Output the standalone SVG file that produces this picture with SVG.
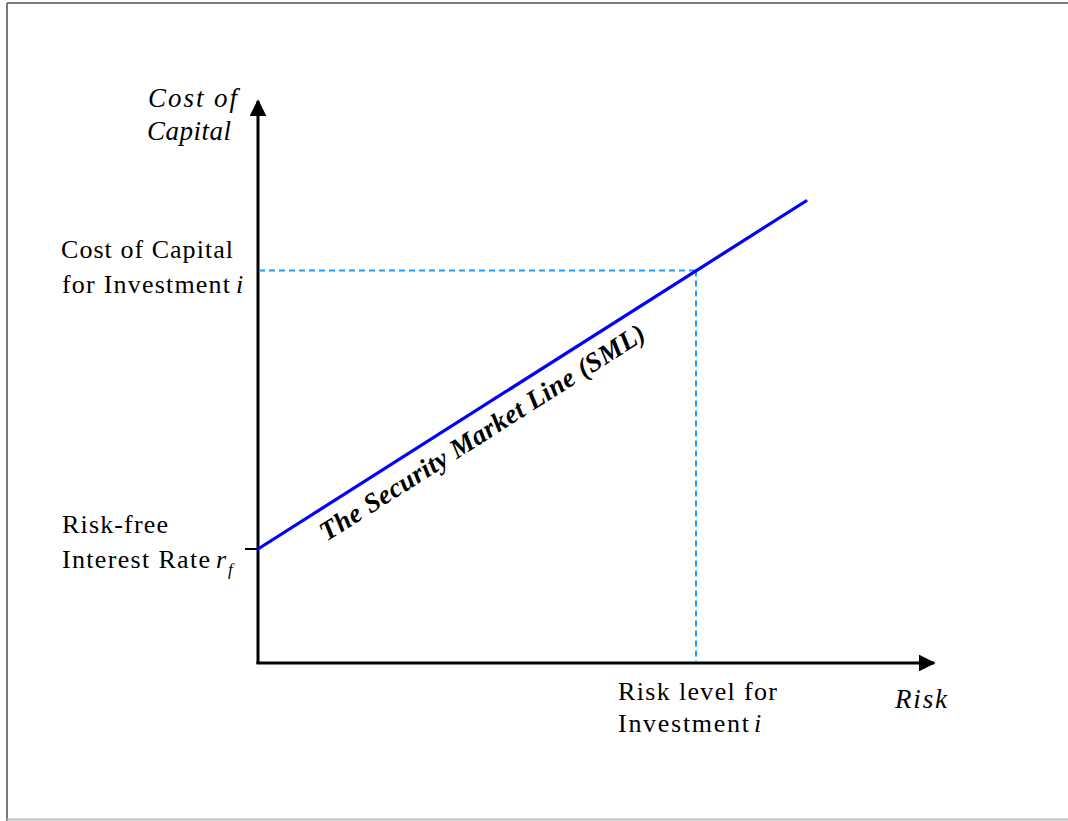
<svg xmlns="http://www.w3.org/2000/svg" width="1068" height="821" viewBox="0 0 1068 821">
  <style>
    .lbl { font-family: "Liberation Serif", "Times New Roman", serif; font-size: 26px; fill: #000; }
    .it { font-style: italic; }
    .title { font-size: 27px; }
    .axis { stroke: #000; stroke-width: 3; fill: none; }
    .guide { stroke: #1E9BFF; stroke-width: 2; stroke-dasharray: 6 4; fill: none; }
    .sml { stroke: #0000FF; stroke-width: 3.2; stroke-linecap: round; fill: none; }
  </style>
  <defs>
    <marker id="arrow" viewBox="0 0 10 10" refX="9" refY="5" markerWidth="5.6" markerHeight="5.6" markerUnits="strokeWidth" orient="auto">
      <path d="M0,0 L10,5 L0,10 Z" fill="#000"/>
    </marker>
  </defs>

  <rect width="1068" height="821" fill="#fff"/>

  <!-- frame -->
  <g id="frame">
    <line x1="7" y1="3" x2="1068" y2="3" stroke="#7a7a7a" stroke-width="2"/>
    <line x1="7" y1="3" x2="7" y2="821" stroke="#7a7a7a" stroke-width="2"/>
    <line x1="7" y1="819.5" x2="1068" y2="819.5" stroke="#c0c0c0" stroke-width="2"/>
  </g>

  <g id="connectors">
    <!-- axes -->
    <line class="axis" x1="258" y1="664" x2="258" y2="101" marker-end="url(#arrow)"/>
    <line class="axis" x1="256.5" y1="663" x2="934" y2="663" marker-end="url(#arrow)"/>
    <!-- rf tick -->
    <line x1="245" y1="549" x2="258" y2="549" stroke="#000" stroke-width="2"/>
    <!-- guides for investment i -->
    <line class="guide" x1="259" y1="270.5" x2="696" y2="270.5"/>
    <line class="guide" x1="696" y1="270.5" x2="696" y2="662"/>
    <!-- security market line -->
    <line class="sml" x1="258" y1="549" x2="806" y2="201"/>
  </g>

  <g id="y-axis-title">
    <text class="lbl it title" x="148" y="107" textLength="89" lengthAdjust="spacing">Cost of</text>
    <text class="lbl it title" x="147" y="140" textLength="84" lengthAdjust="spacing">Capital</text>
  </g>

  <g id="label-cost-i">
    <text class="lbl" x="61" y="258" textLength="172" lengthAdjust="spacing">Cost of Capital</text>
    <text class="lbl" x="62" y="293" textLength="168" lengthAdjust="spacing">for Investment</text>
    <text class="lbl it" x="236" y="293">i</text>
  </g>

  <g id="label-rf">
    <text class="lbl" x="62" y="533" textLength="106" lengthAdjust="spacing">Risk-free</text>
    <text class="lbl" x="62" y="568" textLength="148" lengthAdjust="spacing">Interest Rate</text>
    <text class="lbl it" x="216" y="568">r</text>
    <text class="lbl it" x="228" y="575" style="font-size:17px">f</text>
  </g>

  <g id="label-risk-i">
    <text class="lbl" x="618" y="700" textLength="159" lengthAdjust="spacing">Risk level for</text>
    <text class="lbl" x="618" y="732" textLength="131" lengthAdjust="spacing">Investment</text>
    <text class="lbl it" x="754" y="732">i</text>
  </g>

  <g id="x-axis-title">
    <text class="lbl it title" x="895" y="708" textLength="52" lengthAdjust="spacing">Risk</text>
  </g>

  <g id="sml-label">
    <text class="lbl it" style="font-weight:bold;font-size:27px" text-anchor="middle" textLength="380" lengthAdjust="spacing" transform="translate(487 440) rotate(-32.4)">The Security Market Line (SML)</text>
  </g>
</svg>
